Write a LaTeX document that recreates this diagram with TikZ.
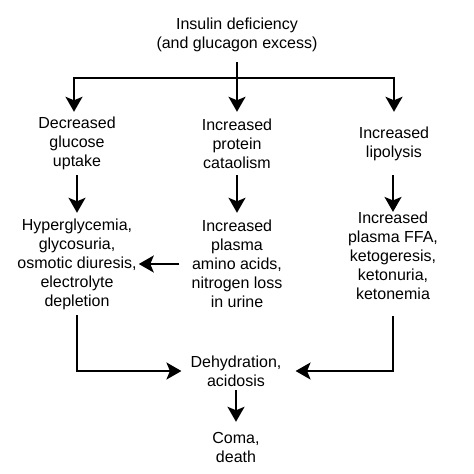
\documentclass[tikz,border=0pt]{standalone}
\usepackage{fontspec}
\setmainfont{Liberation Sans}
\usetikzlibrary{arrows.meta}
\begin{document}
\begin{tikzpicture}[x=1pt,y=-1pt,
  txt/.style={align=center,inner sep=0pt,font=\fontsize{16}{19}\selectfont},
  conn/.style={line width=2pt},
  arr/.style={line width=2pt,-{Stealth[length=15pt,width=17pt,inset=3.5pt]}}]
\useasboundingbox (0,0) rectangle (474,474);
\node[txt,minimum height=54pt] (top) at (237,35) {Insulin deficiency\\(and glucagon excess)};
\node[txt,minimum height=63pt] (dgu) at (77,143.5) {Decreased\\glucose\\uptake};
\node[txt,minimum height=63pt] (ipc) at (237,143.5) {Increased\\protein\\cataolism};
\node[txt,minimum height=63pt] (ilp) at (394,143.5) {Increased\\lipolysis};
\node[txt,minimum height=102pt] (hyp) at (77,264) {Hyperglycemia,\\glycosuria,\\osmotic diuresis,\\electrolyte\\depletion};
\node[txt,minimum height=102pt] (apa) at (237,264) {Increased\\plasma\\amino acids,\\nitrogen loss\\in urine};
\node[txt,minimum height=86pt] (kt) at (393,256) {Increased\\plasma FFA,\\ketogeresis,\\ketonuria,\\ketonemia};
\node[txt,minimum height=38pt] (dh) at (236,371) {Dehydration,\\acidosis};
\node[txt,minimum height=51pt] (cd) at (236,447.5) {Coma,\\death};
\coordinate (bar) at (237,78);
\draw[conn] (top.south) -- (bar);
\draw[arr] (bar) -| ([xshift=-3pt]dgu.north);
\draw[arr] (bar) -- (ipc.north);
\draw[arr] (bar) -| (ilp.north);
\draw[arr] (dgu.south) -- (hyp.north);
\draw[arr] (ipc.south) -- (apa.north);
\draw[arr] ([xshift=-1pt]ilp.south) -- (kt.north);
\draw[arr] ([xshift=-12pt]apa.west) -- ([xshift=2pt]hyp.east);
\draw[arr] (hyp.south) |- ([xshift=-9pt]dh.west);
\draw[arr] ([yshift=-16pt]kt.south) |- ([xshift=14pt]dh.east);
\draw[arr] (dh.south) -- (cd.north);
\end{tikzpicture}
\end{document}
